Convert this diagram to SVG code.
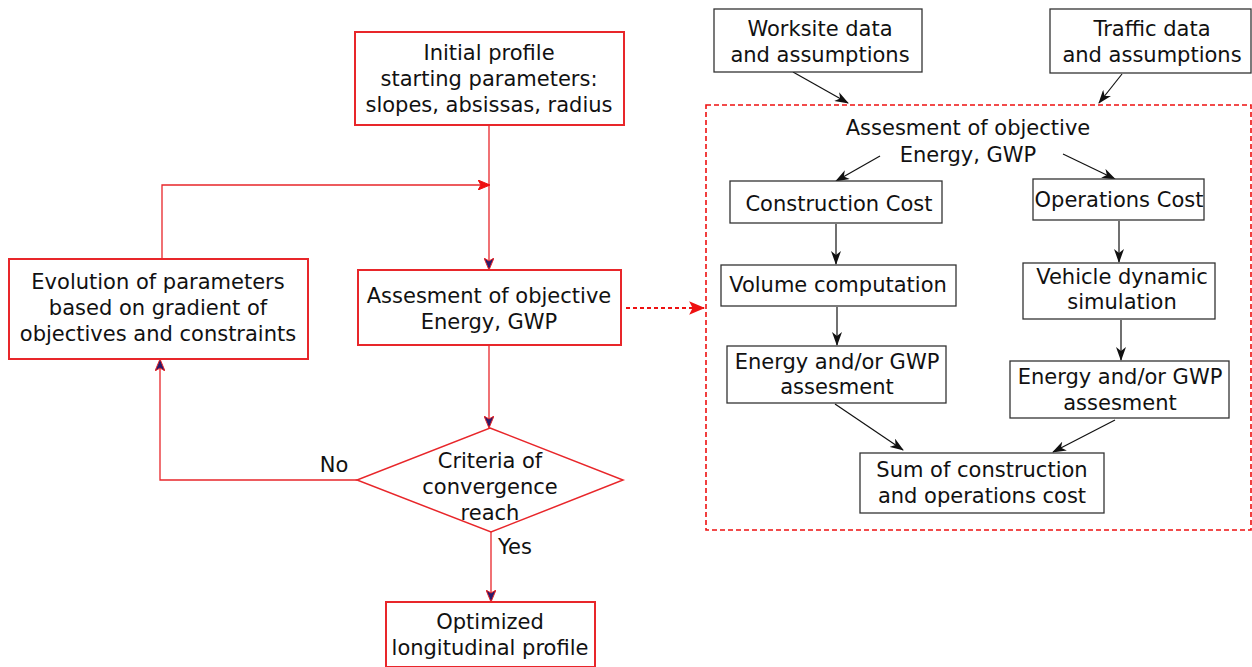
<svg xmlns="http://www.w3.org/2000/svg" width="1252" height="667" viewBox="0 0 1252 667">
<style>
text{font-family:"DejaVu Sans","Liberation Sans",sans-serif;font-size:21px;fill:#111;text-anchor:middle}
.rb{fill:#fff;stroke:#e8262a;stroke-width:2}
.bb{fill:#fff;stroke:#333;stroke-width:1.3}
.rl{fill:none;stroke:#e8262a;stroke-width:1.3}
.bl{fill:none;stroke:#111;stroke-width:1.2}
</style>
<defs>
<marker id="ra" viewBox="0 0 12 10" refX="11" refY="5" markerWidth="12" markerHeight="10" markerUnits="userSpaceOnUse" orient="auto">
<path d="M0,0 L12,5 L0,10 L3,5 Z" fill="#2a1a6a" stroke="#e8262a" stroke-width="1"/>
</marker>
<marker id="rr" viewBox="0 0 12 10" refX="11" refY="5" markerWidth="12" markerHeight="10" markerUnits="userSpaceOnUse" orient="auto">
<path d="M0,0 L12,5 L0,10 L3,5 Z" fill="#ee1111" stroke="#ee1111" stroke-width="1"/>
</marker>
<marker id="rf" viewBox="0 0 14 12" refX="13" refY="6" markerWidth="16" markerHeight="14" markerUnits="userSpaceOnUse" orient="auto">
<path d="M0,0 L14,6 L0,12 L3,6 Z" fill="#ee1111"/>
</marker>
<marker id="ba" viewBox="0 0 14 10" refX="13" refY="5" markerWidth="14" markerHeight="10" markerUnits="userSpaceOnUse" orient="auto">
<path d="M0,0 L14,5 L0,10 L4,5 Z" fill="#111"/>
</marker>
</defs>
<g id="connectors">
<path class="rl" d="M489,125 L489,269" marker-end="url(#ra)"/>
<path class="rl" d="M162,259 L162,185 L489,185" marker-end="url(#rr)"/>
<path class="rl" d="M489,345 L489,427" marker-end="url(#ra)"/>
<path class="rl" d="M357,480 L160,480 L160,360" marker-end="url(#ra)"/>
<path class="rl" d="M491,532 L491,601" marker-end="url(#ra)"/>
<path d="M626,308 L704,308" fill="none" stroke="#ee1111" stroke-width="1.8" stroke-dasharray="4,3" marker-end="url(#rf)"/>
<path class="bl" d="M793,72 L848,103" marker-end="url(#ba)"/>
<path class="bl" d="M1122,74 L1099,103" marker-end="url(#ba)"/>
<path class="bl" d="M880,156 L836,181" marker-end="url(#ba)"/>
<path class="bl" d="M1063,154 L1115,179" marker-end="url(#ba)"/>
<path class="bl" d="M836,224 L836,264" marker-end="url(#ba)"/>
<path class="bl" d="M1119,221 L1119,262" marker-end="url(#ba)"/>
<path class="bl" d="M837,307 L837,345" marker-end="url(#ba)"/>
<path class="bl" d="M1121,320 L1121,360" marker-end="url(#ba)"/>
<path class="bl" d="M835,404 L903,450" marker-end="url(#ba)"/>
<path class="bl" d="M1115,420 L1053,452" marker-end="url(#ba)"/>
</g>
<g id="initial">
<rect class="rb" x="355" y="32" width="269" height="93"/>
<text x="489" y="60">Initial profile</text>
<text x="489" y="86">starting parameters:</text>
<text x="489" y="112">slopes, absissas, radius</text>
</g>
<g id="evolution">
<rect class="rb" x="9" y="259" width="299" height="100"/>
<text x="158" y="289">Evolution of parameters</text>
<text x="158" y="315">based on gradient of</text>
<text x="158" y="341">objectives and constraints</text>
</g>
<g id="assessment">
<rect class="rb" x="358" y="270" width="263" height="75"/>
<text x="489" y="303">Assesment of objective</text>
<text x="489" y="329">Energy, GWP</text>
</g>
<g id="criteria">
<polygon points="490,428 623,480 491,532 357,480" fill="#fff" stroke="#e8262a" stroke-width="1.5"/>
<text x="490" y="468">Criteria of</text>
<text x="490" y="494">convergence</text>
<text x="490" y="520">reach</text>
</g>
<g id="labels">
<text x="334" y="472">No</text>
<text x="515" y="554">Yes</text>
</g>
<g id="optimized">
<rect class="rb" x="386" y="602" width="209" height="65"/>
<text x="490" y="629">Optimized</text>
<text x="490" y="655">longitudinal profile</text>
</g>
<g id="objective-group">
<rect x="706" y="105" width="545" height="425" fill="none" stroke="#ee1111" stroke-width="1.6" stroke-dasharray="5,3"/>
<text x="968" y="135">Assesment of objective</text>
<text x="968" y="162">Energy, GWP</text>
</g>
<g id="worksite">
<rect class="bb" x="714" y="9" width="208" height="63"/>
<text x="820" y="36">Worksite data</text>
<text x="820" y="62">and assumptions</text>
</g>
<g id="traffic">
<rect class="bb" x="1050" y="9" width="201" height="64"/>
<text x="1152" y="36">Traffic data</text>
<text x="1152" y="62">and assumptions</text>
</g>
<g id="construction">
<rect class="bb" x="730" y="181" width="212" height="42"/>
<text x="839" y="211">Construction Cost</text>
</g>
<g id="operations">
<rect class="bb" x="1033" y="179" width="171" height="41"/>
<text x="1119" y="207">Operations Cost</text>
</g>
<g id="volume">
<rect class="bb" x="721" y="265" width="235" height="41"/>
<text x="838" y="292">Volume computation</text>
</g>
<g id="vehicle">
<rect class="bb" x="1023" y="263" width="192" height="56"/>
<text x="1122" y="284">Vehicle dynamic</text>
<text x="1122" y="309">simulation</text>
</g>
<g id="energy-left">
<rect class="bb" x="727" y="346" width="219" height="57"/>
<text x="837" y="369">Energy and/or GWP</text>
<text x="837" y="394">assesment</text>
</g>
<g id="energy-right">
<rect class="bb" x="1010" y="361" width="219" height="57"/>
<text x="1120" y="384">Energy and/or GWP</text>
<text x="1120" y="410">assesment</text>
</g>
<g id="sum">
<rect class="bb" x="860" y="453" width="244" height="60"/>
<text x="982" y="477">Sum of construction</text>
<text x="982" y="503">and operations cost</text>
</g>
</svg>
